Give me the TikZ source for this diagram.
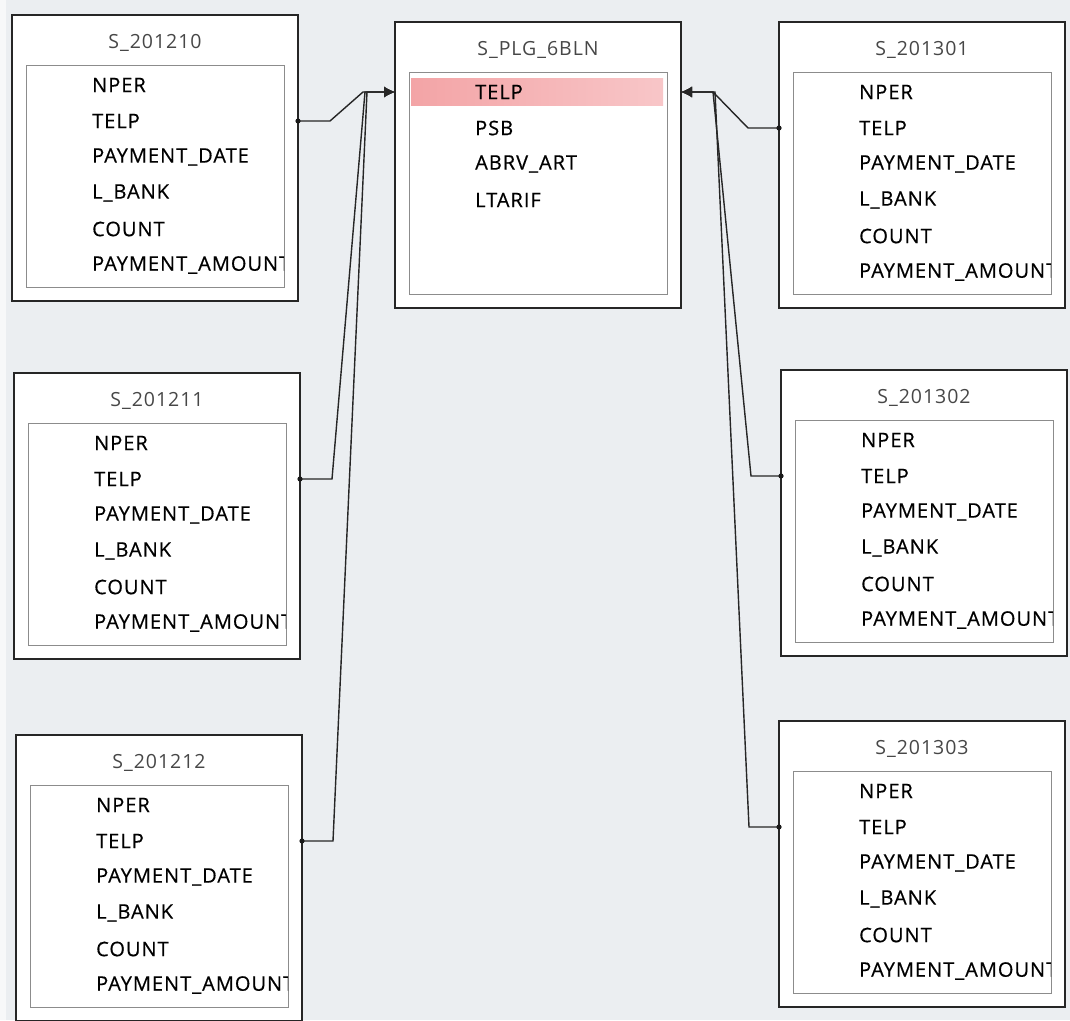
\documentclass[tikz,border=0pt]{standalone}
\usepackage{fontspec}
\setmainfont{Open Sans}
\newfontfamily\dbfont[LetterSpace=5]{Open Sans}
\newfontfamily\fldfont[LetterSpace=5,FakeBold=0.5]{Open Sans}
\usetikzlibrary{calc,arrows.meta}
\definecolor{bgc}{HTML}{EBEEF1}
\definecolor{hlL}{HTML}{F3A4A6}
\definecolor{hlR}{HTML}{F8C6C8}
\newcommand\dbframe[4]{%
  \node[outerbox, anchor=north west] (#1) at (#2,#3) {};
  \node[titletext] (#1-title) at ($(#1.north west)+(143,28)$) {#4};
  \node[innerbox, anchor=north west] (#1-in) at ($(#1.north west)+(14,50)$) {};
}
\newcommand\dbfields[2]{%
  \begin{scope}
    \clip (#1-in.north west) rectangle (#1-in.south east);
    \foreach \f [count=\i] in {#2}
      \node[field] (#1-\i) at ($(#1.north west)+(80,34+36*\i)$) {\f};
  \end{scope}
}
\begin{document}
\begin{tikzpicture}[x=1pt,y=-1pt,
  outerbox/.style={draw=black!85, line width=1.3pt, fill=white, minimum width=286pt, minimum height=286pt, inner sep=0pt, outer sep=0pt},
  innerbox/.style={draw=black!45, line width=0.9pt, fill=white, minimum width=258pt, minimum height=222pt, inner sep=0pt, outer sep=0pt},
  titletext/.style={font=\dbfont\fontsize{19.5}{23}\selectfont, text=black!72, inner sep=0pt},
  field/.style={font=\fldfont\fontsize{20}{23}\selectfont, anchor=west, inner sep=0pt, text=black},
  conn/.style={draw=black!85, line width=1.4pt},
  tip/.style={-{Latex[length=11pt,width=11pt]}},
  dot/.style={fill=black!90}]
\useasboundingbox (0,0) rectangle (1070,1020);
\clip (0,0) rectangle (1070,1020);
\fill[bgc] (0,0) rectangle (1070,1020);
\fill[white!60!bgc] (0,0) rectangle (6,1020);

\dbframe{s10}{12}{15}{S\_201210}
\dbfields{s10}{NPER,TELP,PAYMENT\_DATE,L\_BANK,COUNT,PAYMENT\_AMOUNT}
\dbframe{s11}{14}{373}{S\_201211}
\dbfields{s11}{NPER,TELP,PAYMENT\_DATE,L\_BANK,COUNT,PAYMENT\_AMOUNT}
\dbframe{s12}{16}{735}{S\_201212}
\dbfields{s12}{NPER,TELP,PAYMENT\_DATE,L\_BANK,COUNT,PAYMENT\_AMOUNT}

\dbframe{plg}{395}{22}{S\_PLG\_6BLN}
\shade[left color=hlL, right color=hlR] ($(plg-in.north west)+(2,6)$) rectangle ($(plg-in.north east)+(-4,33)$);
\dbfields{plg}{TELP,PSB,ABRV\_ART,LTARIF}

\dbframe{s01}{779}{22}{S\_201301}
\dbfields{s01}{NPER,TELP,PAYMENT\_DATE,L\_BANK,COUNT,PAYMENT\_AMOUNT}
\dbframe{s02}{781}{370}{S\_201302}
\dbfields{s02}{NPER,TELP,PAYMENT\_DATE,L\_BANK,COUNT,PAYMENT\_AMOUNT}
\dbframe{s03}{779}{721}{S\_201303}
\dbfields{s03}{NPER,TELP,PAYMENT\_DATE,L\_BANK,COUNT,PAYMENT\_AMOUNT}

% connectors, left side
\draw[conn, tip] (s10.east |- s10-2) -- (330,121) -- (363,92) -- (plg.west |- plg-1);
\draw[conn, tip] (s11.east |- s11-2) -- (332,479) -- (365,92) -- (plg.west |- plg-1);
\draw[conn, tip] (s12.east |- s12-2) -- (333,841) -- (367,92) -- (plg.west |- plg-1);
% connectors, right side
\draw[conn, tip] (s01.west |- s01-2) -- (748,128) -- (713,92) -- (plg.east |- plg-1);
\draw[conn, tip] (s02.west |- s02-2) -- (751,476) -- (713,92) -- (plg.east |- plg-1);
\draw[conn, tip] (s03.west |- s03-2) -- (749,827) -- (715,92) -- (plg.east |- plg-1);
% end dots
\foreach \n in {s10,s11,s12} \fill[dot] (\n.east |- \n-2) circle (2.6);
\foreach \n in {s01,s02,s03} \fill[dot] (\n.west |- \n-2) circle (2.6);
\end{tikzpicture}
\end{document}
